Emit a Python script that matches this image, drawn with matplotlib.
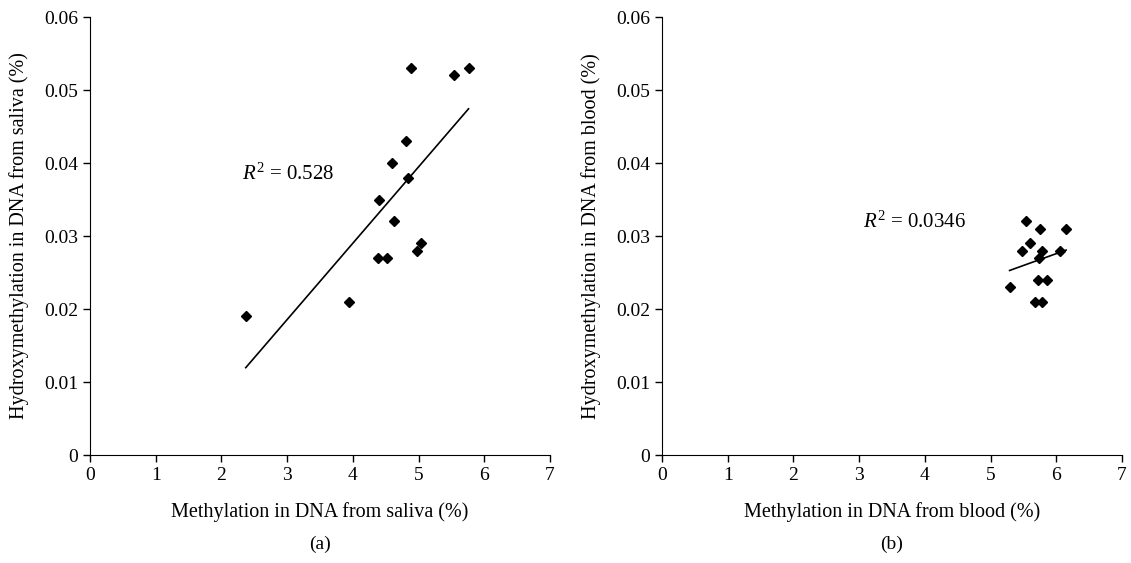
import numpy as np
import matplotlib.pyplot as plt

plt.rcParams['font.family'] = 'Liberation Serif'
plt.rcParams['mathtext.fontset'] = 'custom'
plt.rcParams['mathtext.rm'] = 'Liberation Serif'
plt.rcParams['mathtext.it'] = 'Liberation Serif:italic'

# saliva panel (a)
saliva_meth = [2.37, 3.94, 4.39, 4.52, 4.40, 4.62, 4.60, 4.81, 4.84, 4.88, 4.98, 5.03, 5.54, 5.76]
saliva_hmeth = [0.019, 0.021, 0.027, 0.027, 0.035, 0.032, 0.040, 0.043, 0.038, 0.053, 0.028, 0.029, 0.052, 0.053]

# blood panel (b)
blood_meth = [5.54, 5.75, 6.15, 5.60, 5.48, 5.78, 6.05, 5.74, 5.72, 5.86, 5.29, 5.68, 5.79]
blood_hmeth = [0.032, 0.031, 0.031, 0.029, 0.028, 0.028, 0.028, 0.027, 0.024, 0.024, 0.023, 0.021, 0.021]

r2_labels = ["0.528", "0.0346"]
r2_pos = [(2.31, 0.0384), (3.06, 0.0319)]
x_labels = ["Methylation in DNA from saliva (%)", "Methylation in DNA from blood (%)"]
y_labels = ["Hydroxymethylation in DNA from saliva (%)", "Hydroxymethylation in DNA from blood (%)"]
panel_tags = ["(a)", "(b)"]

fig = plt.figure(figsize=(11.31, 5.63), dpi=100)
ax_a = fig.add_axes([0.0796, 0.1918, 0.4067, 0.778])
ax_b = fig.add_axes([0.5853, 0.1918, 0.4067, 0.778])

panels = [(ax_a, saliva_meth, saliva_hmeth), (ax_b, blood_meth, blood_hmeth)]
for i, (ax, xs, ys) in enumerate(panels):
    xs = np.array(xs)
    ys = np.array(ys)
    ax.plot(xs, ys, 'D', color='black', markersize=5, zorder=3)
    # linear trend line over data range
    k, b = np.polyfit(xs, ys, 1)
    xl = np.array([xs.min(), xs.max()])
    ax.plot(xl, k * xl + b, color='black', linewidth=1.2)
    ax.text(r2_pos[i][0], r2_pos[i][1], "$R^2$ = " + r2_labels[i], fontsize=15, va='center')

    ax.set_xlim(0, 7)
    ax.set_ylim(0, 0.06)
    ax.set_xticks(range(0, 8))
    ax.set_yticks(np.arange(0, 0.061, 0.01))
    ax.set_yticklabels(["0", "0.01", "0.02", "0.03", "0.04", "0.05", "0.06"])
    ax.spines['top'].set_visible(False)
    ax.spines['right'].set_visible(False)
    ax.tick_params(direction='out', length=5, labelsize=14, width=1)
    ax.set_xlabel(x_labels[i], fontsize=14.5, labelpad=13)
    ax.set_ylabel(y_labels[i], fontsize=14.5, labelpad=11)
    ax.text(0.5, -0.205, panel_tags[i], transform=ax.transAxes, ha='center', va='center', fontsize=14)

fig.savefig("out.png", dpi=100)
